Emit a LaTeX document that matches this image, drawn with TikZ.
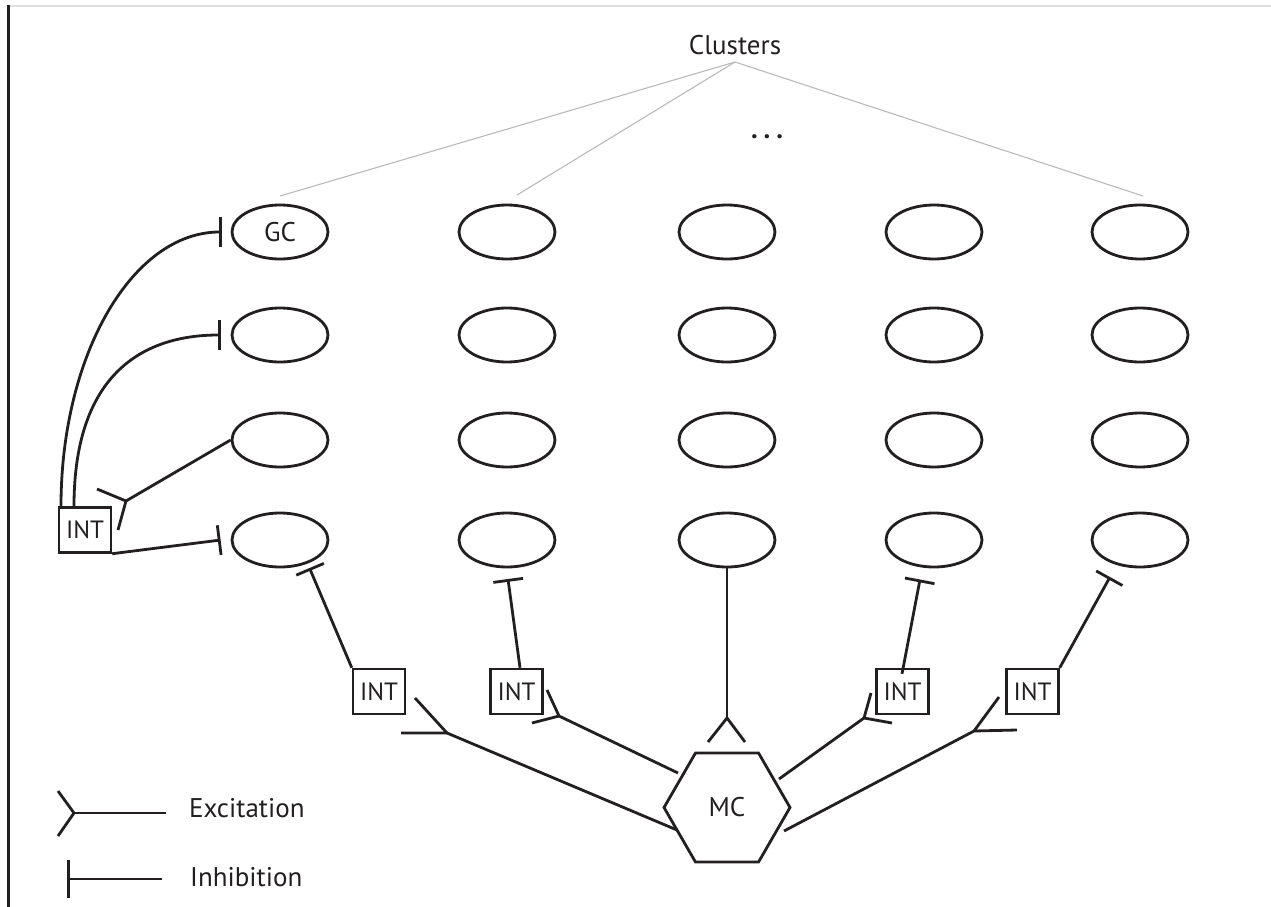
\documentclass[tikz,border=0pt]{standalone}
\usepackage{fontspec}
\setmainfont{PT Sans}
\usetikzlibrary{shapes.geometric,arrows.meta}
\definecolor{ink}{RGB}{35,31,32}
\newcommand{\lblfont}{\fontsize{27}{32}\selectfont}
\newcommand{\boxfont}{\fontsize{25}{30}\selectfont}
\begin{document}
\begin{tikzpicture}[x=1pt,y=-1pt,
  every node/.style={text=ink},
  cell/.style={draw=ink, ellipse, line width=2.8pt, minimum width=96pt, minimum height=54pt, inner sep=0pt, font=\lblfont},
  intbox/.style={draw=ink, rectangle, line width=2.4pt, minimum width=52pt, minimum height=45pt, inner sep=0pt, font=\boxfont},
  mcnode/.style={draw=ink, regular polygon, regular polygon sides=6, line width=2.8pt, minimum size=126pt, inner sep=0pt, font=\lblfont},
  conn/.style={draw=ink, line width=2.8pt},
  inhib/.style={conn, -{Bar[width=30pt,line width=2.8pt]}},
  guide/.style={draw=gray!55, line width=1.1pt},
  lbl/.style={font=\lblfont, inner sep=0pt}]
\useasboundingbox (0,0) rectangle (1271,907);
% frame
\draw[draw=gray!25, line width=2pt] (8,6) -- (1271,6);
\draw[conn, line width=3pt] (8,5) -- (8,907);
% title
\node[lbl] (clusters) at (735,45) {Clusters};
\node[lbl] (dots) at (767,137) {\textbf{.}\hspace{6pt}\textbf{.}\hspace{6pt}\textbf{.}};
\coordinate (cl) at (735,62);
% cells
\foreach \x [count=\i] in {280,507,727,934,1140}
  \foreach \y [count=\j] in {232,335,440,540}
    \node[cell] (e\i\j) at (\x,\y) {\ifnum\i\j=11 GC\fi};
% guide lines
\coordinate (g1) at (280,196);
\coordinate (g2) at (517,195);
\coordinate (g3) at (1143,196);
\draw[guide] (cl) -- (g1);
\draw[guide] (cl) -- (g2);
\draw[guide] (cl) -- (g3);
% left INT
\node[intbox] (intL) at (85,530) {INT};
\draw[inhib] ([xshift=-24pt]intL.north) .. controls +(0,-152) and +(-89,0) .. ([xshift=-9pt]e11.west);
\draw[inhib] ([xshift=-11pt]intL.north) .. controls +(0,-130) and +(-80,0) .. ([xshift=-10pt]e12.west);
\coordinate (vL) at (126,501);
\draw[conn] (e13.west) -- (vL);
\draw[conn] (97,489) -- (vL) -- (118,530);
\draw[inhib] (intL.south east) -- ([xshift=-10pt]e14.west);
% bottom INTs
\node[intbox] (i1) at (379,691.5) {INT};
\node[intbox] (i2) at (516.5,691.5) {INT};
\node[intbox] (i3) at (902.5,691.5) {INT};
\node[intbox] (i4) at (1032.5,691.5) {INT};
\coordinate (b1) at (309.5,568);
\coordinate (b2) at (508,579);
\coordinate (b3) at (920,579.5);
\coordinate (b4) at (1110,577);
\draw[inhib] (i1.north west) -- (b1);
\draw[inhib] ([xshift=3.5pt]i2.north) -- (b2);
\draw[inhib] ([yshift=-6pt,xshift=-0.5pt]i3.north) -- (b3);
\draw[inhib] (i4.north east) -- (b4);
% MC
\node[mcnode] (mc) at (727,807.5) {MC};
\coordinate (vM) at (727,718);
\draw[conn, line width=2.4pt] (e34.south) -- (vM);
\draw[conn] (708,742) -- (vM) -- (745,742);
\coordinate (mcA) at (677,830);
\coordinate (mcB) at (678,773);
\coordinate (mcC) at (779,779);
\coordinate (mcD) at (784,831);
\coordinate (v1) at (447,733);
\coordinate (v2) at (559,716);
\coordinate (v3) at (864,718);
\coordinate (v4) at (974,731);
\draw[conn] (mcA) -- (v1);
\draw[conn] (415,698) -- (v1) -- (401,733);
\draw[conn] (mcB) -- (v2);
\draw[conn] (547,690) -- (v2) -- (532,723);
\draw[conn] (mcC) -- (v3);
\draw[conn] (871,693) -- (v3) -- (892,723);
\draw[conn] (mcD) -- (v4);
\draw[conn] (999,697) -- (v4) -- (1017,730);
% legend
\coordinate (lx1) at (166,813);
\coordinate (lx2) at (74,813);
\draw[conn] (lx1) -- (lx2);
\draw[conn] (58,791) -- (lx2) -- (58,836);
\node[lbl, anchor=west] (lexc) at (189,808) {Excitation};
\coordinate (li1) at (162,879);
\coordinate (li2) at (67,879);
\draw[inhib, -{Bar[width=38pt,line width=2.8pt]}] (li1) -- (li2);
\node[lbl, anchor=west] (linh) at (190,877) {Inhibition};
\end{tikzpicture}
\end{document}
